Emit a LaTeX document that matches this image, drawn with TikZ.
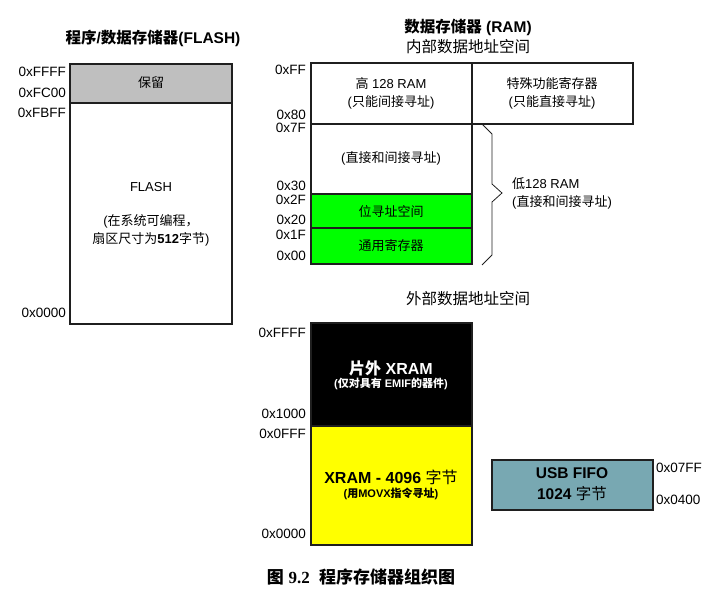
\documentclass[tikz,border=0pt]{standalone}
\usepackage{fontspec}
\setmainfont{Liberation Sans}
\newfontfamily\zh{Noto Sans CJK SC}
\newfontfamily\capfont{Liberation Serif}
\usetikzlibrary{positioning}
\newcommand{\cn}[1]{{\zh #1}}
\definecolor{mgray}{rgb}{0.75, 0.75, 0.75}
\definecolor{mgreen}{rgb}{0, 1, 0}
\definecolor{myellow}{rgb}{1, 1, 0}
\definecolor{mteal}{rgb}{0.47, 0.66, 0.70}
\definecolor{mline}{rgb}{0.12, 0.12, 0.12}
\tikzset{memblock/.style = {draw=mline, line width=1.1pt},
         addr/.style = {font=\fontsize{13.5}{15}\selectfont, inner sep=0pt},
         blocktext/.style = {font=\fontsize{13}{18}\selectfont, align=center, inner sep=0pt},
         headtext/.style = {font=\fontsize{15.5}{18}\selectfont\bfseries, inner sep=0pt},
         subhead/.style = {font=\fontsize{15.5}{18}\selectfont, inner sep=0pt},
         bigtext/.style = {font=\fontsize{16}{19}\selectfont\bfseries, inner sep=0pt},
         smalltext/.style = {font=\fontsize{11}{13}\selectfont\bfseries, inner sep=0pt}}

\begin{document}
\begin{tikzpicture}[x=1pt, y=-1pt]
    \useasboundingbox (0, 0) rectangle (721, 607);

    % program / data flash
    \node [headtext] (flashtitle) at (153, 38) {\cn{程序}/\cn{数据存储器}(FLASH)};
    \draw [memblock, fill=mgray] (70, 64) rectangle (232, 103);
    \draw [memblock] (70, 103) rectangle (232, 324);
    \node [blocktext] (reserved) at (151, 83) {\cn{保留}};
    \node [blocktext] (flash) at (151, 187) {FLASH};
    \node [blocktext] (flashnote) at (151, 230) {(\cn{在系统可编程，}\\\cn{扇区尺寸为}\textbf{512}\cn{字节})};
    \foreach \y/\a [count=\i] in {72/0xFFFF, 93/0xFC00, 113/0xFBFF, 313/0x0000} {
      \node [addr, anchor=east] (flashaddr\i) at (66, \y) {\a};
    }

    % internal data RAM
    \node [headtext] (ramtitle) at (468, 27) {\cn{数据存储器} (RAM)};
    \node [subhead] (intspace) at (468, 47) {\cn{内部数据地址空间}};
    \draw [memblock] (311, 63) rectangle (633, 124);
    \draw [memblock] (472, 63) -- (472, 124);
    \draw [memblock] (311, 124) rectangle (472, 194);
    \draw [memblock, fill=mgreen] (311, 194) rectangle (472, 228);
    \draw [memblock, fill=mgreen] (311, 228) rectangle (472, 264);
    \node [blocktext] (upper) at (391, 93) {\cn{高} 128 RAM\\(\cn{只能间接寻址})};
    \node [blocktext] (sfr) at (552, 93) {\cn{特殊功能寄存器}\\(\cn{只能直接寻址})};
    \node [blocktext] (lowtop) at (391, 158) {(\cn{直接和间接寻址})};
    \node [blocktext] (bitaddr) at (391, 212) {\cn{位寻址空间}};
    \node [blocktext] (regbank) at (391, 246) {\cn{通用寄存器}};
    \foreach \y/\a [count=\i] in {70/0xFF, 115/0x80, 128/0x7F, 186/0x30, 200/0x2F, 220/0x20, 235/0x1F, 256/0x00} {
      \node [addr, anchor=east] (ramaddr\i) at (306, \y) {\a};
    }
    \coordinate (bracetop) at (482, 124);
    \coordinate (bracetip) at (502, 193);
    \coordinate (bracebot) at (482, 265);
    \draw [mline, line width=0.8pt] (bracetop) -- (492, 134) -- (492, 184) -- (bracetip)
      -- (492, 202) -- (492, 255) -- (bracebot);
    \node [blocktext, anchor=west, align=left] (lowram) at ([xshift=10pt]bracetip) {\cn{低}128 RAM\\(\cn{直接和间接寻址})};

    % external data space
    \node [subhead] (extspace) at (468, 299) {\cn{外部数据地址空间}};
    \draw [memblock, fill=black] (311, 323) rectangle (472, 426);
    \draw [memblock, fill=myellow] (311, 426) rectangle (472, 545);
    \node [bigtext, white] (offchip) at (391, 368) {\cn{片外} XRAM};
    \node [smalltext, white] (offnote) at (391, 384) {(\cn{仅对具有} EMIF\cn{的器件})};
    \node [bigtext] (xram) at (391, 477) {XRAM - 4096 {\mdseries\cn{字节}}};
    \node [smalltext] (xramnote) at (391, 494) {(\cn{用}MOVX\cn{指令寻址})};
    \foreach \y/\a [count=\i] in {333/0xFFFF, 414/0x1000, 434/0x0FFF, 534/0x0000} {
      \node [addr, anchor=east] (extaddr\i) at (306, \y) {\a};
    }
    \draw [memblock, fill=mteal] (492, 460) rectangle (653, 510);
    \node [bigtext, font=\fontsize{15.5}{21}\selectfont\bfseries, align=center] (usbfifo) at (572, 484) {USB FIFO\\1024 {\mdseries\cn{字节}}};
    \node [addr, anchor=west] (usbaddr1) at (656, 468) {0x07FF};
    \node [addr, anchor=west] (usbaddr2) at (656, 500) {0x0400};

    \node [font=\fontsize{17}{20}\selectfont\bfseries, inner sep=0pt] (caption) at (361, 577) {\cn{图} {\capfont 9.2} \ \cn{程序存储器组织图}};
  \end{tikzpicture}
\end{document}
